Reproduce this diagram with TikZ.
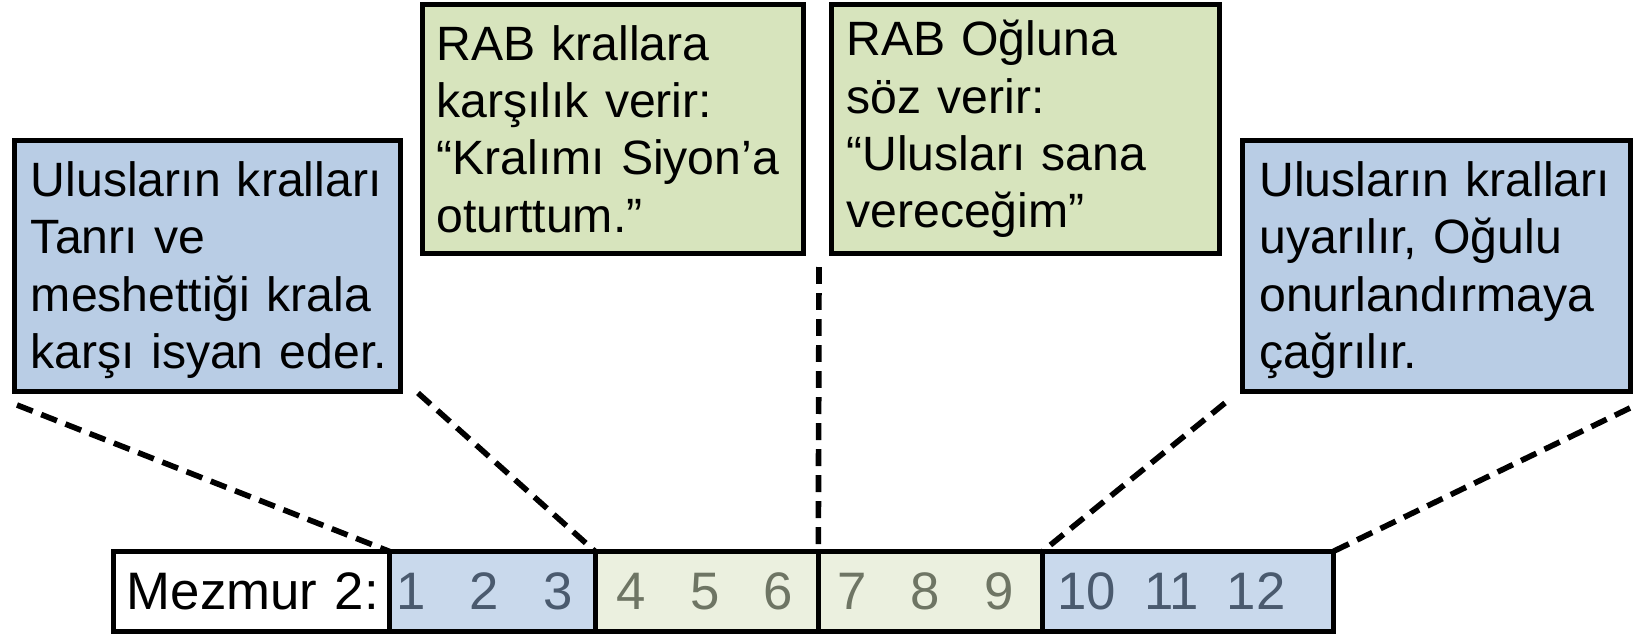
\documentclass[tikz,border=0pt]{standalone}
\usepackage{fontspec}
\setmainfont{Liberation Sans}
\usetikzlibrary{positioning,shadows}

\definecolor{boxblue}{HTML}{B9CDE5}
\definecolor{boxgreen}{HTML}{D7E4BD}
\definecolor{cellblue}{HTML}{C9D9EC}
\definecolor{cellgreen}{HTML}{EBF0DF}
\definecolor{numblue}{HTML}{4A5A6E}
\definecolor{numgreen}{HTML}{6E7564}

\newcommand{\vgap}{\hspace{0.84em}}
\newcommand{\wgap}{\hspace{0.53em}}
\newcommand{\topstrut}{\rule{0pt}{12.3pt}}

\tikzset{
  softshadow/.style={drop shadow={opacity=0.3, shadow xshift=0.8pt, shadow yshift=-0.8pt}},
  infobox/.style={draw, line width=1.4pt, align=left, inner ysep=0pt, softshadow,
    font=\fontsize{13.7}{16.3}\selectfont},
  barcell/.style={draw, line width=1.4pt, outer sep=0pt, minimum height=0.8cm, softshadow,
    align=left, inner ysep=0pt, font=\fontsize{15}{18}\selectfont},
  guide/.style={line width=1.6pt, dash pattern=on 4.8pt off 2.6pt},
}

\begin{document}
\begin{tikzpicture}[x=0.01cm, y=-0.01cm]
\useasboundingbox (0,0) rectangle (1644,636);

% the four summary boxes
\node[infobox, fill=boxblue, inner xsep=0.165cm, text width=3.53cm, minimum height=2.51cm]
  (rebels) at (207.5,266)
  {\topstrut Ulusların kralları\\Tanrı ve\\meshettiği krala\\karşı~isyan~eder.};
\node[infobox, fill=boxgreen, inner xsep=0.14cm, text width=3.53cm, minimum height=2.49cm]
  (answer) at (613,129)
  {RAB krallara\\karşılık verir:\\“Kralımı Siyon’a\\oturttum.”};
\node[infobox, fill=boxgreen, inner xsep=0.15cm, text width=3.58cm, minimum height=2.49cm]
  (promise) at (1025.5,129)
  {RAB Oğluna\\söz verir:\\“Ulusları sana\\vereceğim”};
\node[infobox, fill=boxblue, inner xsep=0.17cm, text width=3.54cm, minimum height=2.51cm]
  (warning) at (1436.5,266)
  {\topstrut Ulusların kralları\\uyarılır, Oğulu\\onurlandırmaya\\çağrılır.};

% the verse bar
\node[barcell, fill=white, inner xsep=0.135cm, text width=2.49cm] (psalm) at (251.5,591.5)
  {Mezmur~2:};
\node[barcell, fill=cellblue, text=numblue, inner xsep=0.065cm, text width=1.925cm,
  right=0pt of psalm] (v123) {1\vgap 2\vgap 3};
\node[barcell, fill=cellgreen, text=numgreen, inner xsep=0.215cm, text width=1.8cm,
  right=0pt of v123] (v456) {4\vgap 5\vgap 6};
\node[barcell, fill=cellgreen, text=numgreen, inner xsep=0.19cm, text width=1.86cm,
  right=0pt of v456] (v789) {7\vgap 8\vgap 9};
\node[barcell, fill=cellblue, text=numblue, inner xsep=0.15cm, text width=2.605cm,
  right=0pt of v789] (v101112) {10\wgap 11\wgap 12};

% loose ends of the dashed guides
\coordinate (g1) at (17,405);
\coordinate (g2) at (418,393);
\coordinate (g3) at (819,267);
\coordinate (g4) at (1225,403);
\coordinate (g5) at (1630,408);

\foreach \s/\d in {g1/v123.north west, g2/v123.north east, g3/v456.north east,
                   g4/v101112.north west, g5/v101112.north east}
  \draw[guide] (\s) -- (\d);

\end{tikzpicture}
\end{document}
